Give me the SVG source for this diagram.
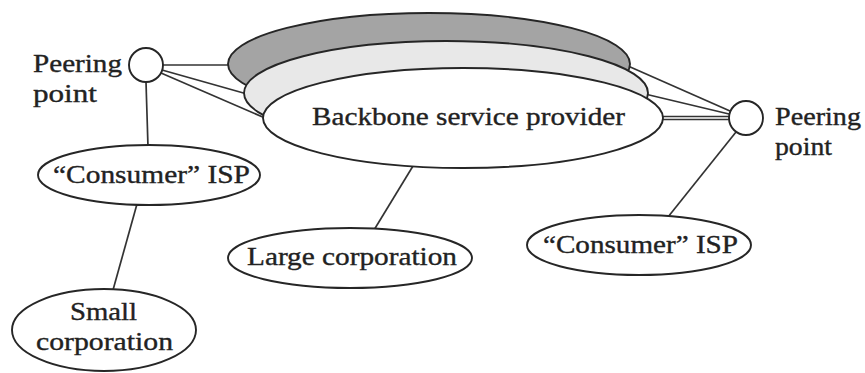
<svg xmlns="http://www.w3.org/2000/svg" width="865" height="373" viewBox="0 0 865 373">
<style>
.edge{stroke:#333333;stroke-width:1.7;fill:none}
.node{stroke:#262626;stroke-width:1.9}
.w{fill:#ffffff}
.t{font-family:"Liberation Serif","Times New Roman",serif;font-size:25px;fill:#222222;stroke:#222222;stroke-width:0.35}
</style>
<rect width="865" height="373" fill="#ffffff"/>
<g id="connectors">
<line class="edge" x1="163" y1="65" x2="230" y2="65"/>
<line class="edge" x1="162" y1="70" x2="247" y2="94"/>
<line class="edge" x1="161" y1="73" x2="265" y2="118"/>
<line class="edge" x1="146" y1="82" x2="148" y2="147"/>
<line class="edge" x1="137" y1="204" x2="113" y2="290"/>
<line class="edge" x1="413" y1="166" x2="374" y2="230"/>
<line class="edge" x1="628" y1="66" x2="730" y2="111"/>
<line class="edge" x1="645" y1="94" x2="729" y2="114"/>
<line class="edge" x1="660" y1="116.5" x2="729" y2="116.5"/>
<line class="edge" x1="660" y1="119.5" x2="729" y2="119.5"/>
<line class="edge" x1="736" y1="132" x2="668" y2="217"/>
</g>
<g id="peer-left">
<circle class="node w" cx="146" cy="65" r="17"/>
<text class="t" x="33" y="72" textLength="89" lengthAdjust="spacingAndGlyphs">Peering</text>
<text class="t" x="33" y="102" textLength="64" lengthAdjust="spacingAndGlyphs">point</text>
</g>
<g id="peer-right">
<circle class="node w" cx="746" cy="118" r="17"/>
<text class="t" x="775" y="125" textLength="86" lengthAdjust="spacingAndGlyphs">Peering</text>
<text class="t" x="775" y="155" textLength="57" lengthAdjust="spacingAndGlyphs">point</text>
</g>
<g id="backbone">
<ellipse class="node" cx="429" cy="64" rx="201" ry="51" fill="#a4a4a4"/>
<ellipse class="node" cx="446" cy="93" rx="202" ry="52" fill="#e8e8e8"/>
<ellipse class="node w" cx="463" cy="118" rx="200" ry="50"/>
<text class="t" x="312" y="125" textLength="313" lengthAdjust="spacingAndGlyphs">Backbone service provider</text>
</g>
<g id="isp-left">
<ellipse class="node w" cx="149" cy="175" rx="111" ry="30"/>
<text class="t" x="53" y="183" textLength="197" lengthAdjust="spacingAndGlyphs">“Consumer” ISP</text>
</g>
<g id="isp-right">
<ellipse class="node w" cx="639" cy="245" rx="112" ry="30"/>
<text class="t" x="543" y="253" textLength="195" lengthAdjust="spacingAndGlyphs">“Consumer” ISP</text>
</g>
<g id="large-corp">
<ellipse class="node w" cx="350" cy="258" rx="122" ry="30"/>
<text class="t" x="247" y="265" textLength="210" lengthAdjust="spacingAndGlyphs">Large corporation</text>
</g>
<g id="small-corp">
<ellipse class="node w" cx="104" cy="330" rx="92" ry="41"/>
<text class="t" x="70" y="320" textLength="67" lengthAdjust="spacingAndGlyphs">Small</text>
<text class="t" x="36" y="350" textLength="137" lengthAdjust="spacingAndGlyphs">corporation</text>
</g>
</svg>
